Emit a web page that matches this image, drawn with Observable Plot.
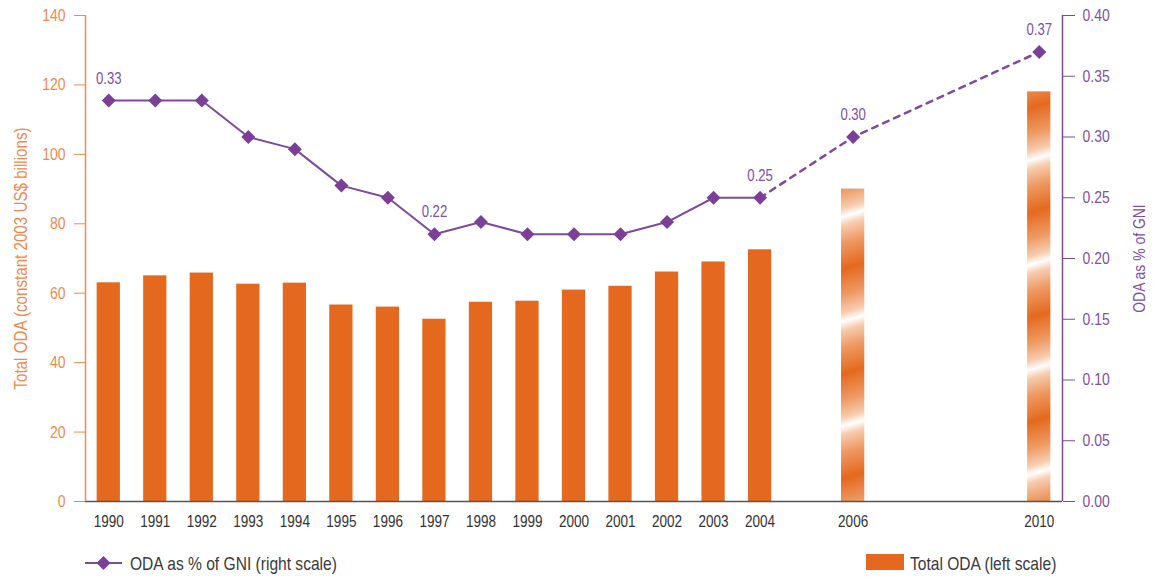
<!DOCTYPE html>
<html>
<head>
<meta charset="utf-8">
<script src="https://cdn.jsdelivr.net/npm/d3@7"></script>
<script src="https://cdn.jsdelivr.net/npm/@observablehq/plot@0.6"></script>
<style>
  html, body { margin: 0; padding: 0; background: #fff; }
  #wrap { position: relative; width: 1154px; height: 577px; font-family: "Liberation Sans", Arial, sans-serif; }
  #chart { position: absolute; left: 0; top: 0; }
  #legend { position: absolute; left: 0; top: 535px; }
</style>
</head>
<body>
<div id="wrap">
  <div id="chart"></div>
  <svg id="legend" width="1154" height="42" font-family="Liberation Sans, Arial, sans-serif">
    <line x1="85" y1="28" x2="122" y2="28" stroke="#7E4A9C" stroke-width="2"/>
    <path d="M103.5,21 L110.5,28 L103.5,35 L96.5,28 Z" fill="#7B3F98"/>
    <text x="130" y="28" dy="0.35em" font-size="19" fill="#3a3a3a">ODA as % of GNI (right scale)</text>
    <rect x="866" y="19" width="38" height="16" fill="#E4691E"/>
    <text x="910" y="28" dy="0.35em" font-size="19" fill="#3a3a3a">Total ODA (left scale)</text>
  </svg>
</div>
<script>
const years = [1990, 1991, 1992, 1993, 1994, 1995, 1996, 1997, 1998, 1999, 2000, 2001, 2002, 2003, 2004, 2006, 2010];
const totalODA = [63, 65, 65.8, 62.6, 62.9, 56.6, 56, 52.5, 57.4, 57.7, 60.9, 62, 66.1, 69, 72.5, 90, 118];
const gniPct = [0.33, 0.33, 0.33, 0.30, 0.29, 0.26, 0.25, 0.22, 0.23, 0.22, 0.22, 0.22, 0.23, 0.25, 0.25, 0.30, 0.37];
const projectedYears = [2006, 2010];
const labeledYears = [1990, 1997, 2004, 2006, 2010];
const leftTicks = [0, 20, 40, 60, 80, 100, 120, 140];
const rightTicks = [0, 0.05, 0.10, 0.15, 0.20, 0.25, 0.30, 0.35, 0.40];
const xDomain = [1989.5, 2010.5];

const ORANGE = "#E4691E";
const ORANGE_AXIS = "#EF8A4E";
const PURPLE = "#7B3F98";
const PURPLE_LINE = "#7E4A9C";
const PURPLE_TEXT = "#8050A0";

const scaleK = leftTicks[leftTicks.length - 1] / rightTicks[rightTicks.length - 1];
const data = years.map((year, i) => ({year, oda: totalODA[i], gni: gniPct[i], projected: projectedYears.includes(year)}));
const lastActual = d3.max(data.filter(d => !d.projected), d => d.year);
const actual = data.filter(d => !d.projected);
const projected = data.filter(d => d.projected);
const solidLine = data.filter(d => d.year <= lastActual);
const dashedLine = data.filter(d => d.year >= lastActual);
const labeled = data.filter(d => labeledYears.includes(d.year));

const chart = Plot.plot({
  width: 1154,
  height: 535,
  marginLeft: 85,
  marginRight: 92,
  marginTop: 15,
  marginBottom: 34,
  style: {fontFamily: "'Liberation Sans', Arial, sans-serif", fontSize: "16px", background: "white", overflow: "visible"},
  x: {type: "linear", domain: xDomain},
  y: {domain: [leftTicks[0], leftTicks[leftTicks.length - 1]]},
  marks: [
    Plot.rectY(actual, {x1: d => d.year - 0.25, x2: d => d.year + 0.25, y: "oda", fill: ORANGE}),
    Plot.rectY(projected, {x1: d => d.year - 0.25, x2: d => d.year + 0.25, y: "oda", fill: "url(#stripes)"}),
    Plot.ruleY([leftTicks[0]], {stroke: "#555", strokeWidth: 1.5}),
    Plot.ruleX([xDomain[0]], {stroke: ORANGE_AXIS, strokeWidth: 1.5}),
    Plot.ruleX([xDomain[1]], {stroke: PURPLE_LINE, strokeWidth: 1.5}),
    Plot.axisX(years, {tickSize: 0, tickPadding: 14, tickFormat: d => String(d), fill: "#333", fontSize: 16.5, label: null}),
    Plot.axisY(leftTicks, {anchor: "left", tickSize: 11, tickPadding: 9, color: ORANGE_AXIS, stroke: ORANGE_AXIS, fill: ORANGE_AXIS, fontSize: 17,
      label: "Total ODA (constant 2003 US$ billions)", labelArrow: false, labelAnchor: "center", labelOffset: 72}),
    Plot.axisY(rightTicks.map(v => v * scaleK), {anchor: "right", tickSize: 12, tickPadding: 8, color: PURPLE_LINE, stroke: PURPLE_LINE, fill: PURPLE_TEXT, fontSize: 17,
      tickFormat: d => (d / scaleK).toFixed(2), label: "ODA as % of GNI", labelArrow: false, labelAnchor: "center", labelOffset: 82}),
    Plot.line(solidLine, {x: "year", y: d => d.gni * scaleK, stroke: PURPLE_LINE, strokeWidth: 2}),
    Plot.line(dashedLine, {x: "year", y: d => d.gni * scaleK, stroke: PURPLE_LINE, strokeWidth: 2.5, strokeDasharray: "6,6"}),
    Plot.dot(data, {x: "year", y: d => d.gni * scaleK, symbol: "diamond2", r: 6.3, fill: PURPLE, stroke: null}),
    Plot.text(labeled, {x: "year", y: d => d.gni * scaleK, text: d => d.gni.toFixed(2), dy: -22, fill: PURPLE_TEXT, fontSize: 16})
  ]
});

// gradient definition for projected bars
const svg = d3.select(chart);
const defs = svg.insert("defs", ":first-child");
const grad = defs.append("linearGradient")
  .attr("id", "stripes")
  .attr("gradientUnits", "userSpaceOnUse")
  .attr("spreadMethod", "repeat")
  .attr("x1", 0).attr("y1", 0).attr("x2", 29).attr("y2", 96);
[[0, ORANGE], [0.25, "#EE9A63"], [0.42, "#F7CDB0"], [0.5, "#FFFFFF"], [0.58, "#F7CDB0"], [0.75, "#EE9A63"], [1, ORANGE]]
  .forEach(([o, c]) => grad.append("stop").attr("offset", o).attr("stop-color", c));
svg.selectAll('g[aria-label="rect"]').filter((d, i) => i === 1).attr("fill", "url(#stripes)");

document.getElementById("chart").appendChild(chart);

// axis label sizes, strip arrows
svg.selectAll("text").each(function() {
  const t = this.textContent;
  if (/[→↑←↓]/.test(t)) {
    d3.select(this).selectAll("tspan").size() ? d3.select(this).selectAll("tspan").text(function() { return this.textContent.replace(/\s*[→↑←↓]\s*/g, ""); })
      : d3.select(this).text(t.replace(/\s*[→↑←↓]\s*/g, ""));
  }
  if (t.startsWith("Total ODA")) d3.select(this).attr("font-size", 18.5);
  if (t.startsWith("ODA as")) d3.select(this).attr("font-size", 17);
});

// condensed look: narrow every text to 82% of its natural width
document.querySelectorAll("#wrap svg text").forEach(t => {
  const len = t.getComputedTextLength();
  if (len > 0) {
    t.setAttribute("textLength", (len * 0.82).toFixed(2));
    t.setAttribute("lengthAdjust", "spacingAndGlyphs");
  }
});
</script>
</body>
</html>
